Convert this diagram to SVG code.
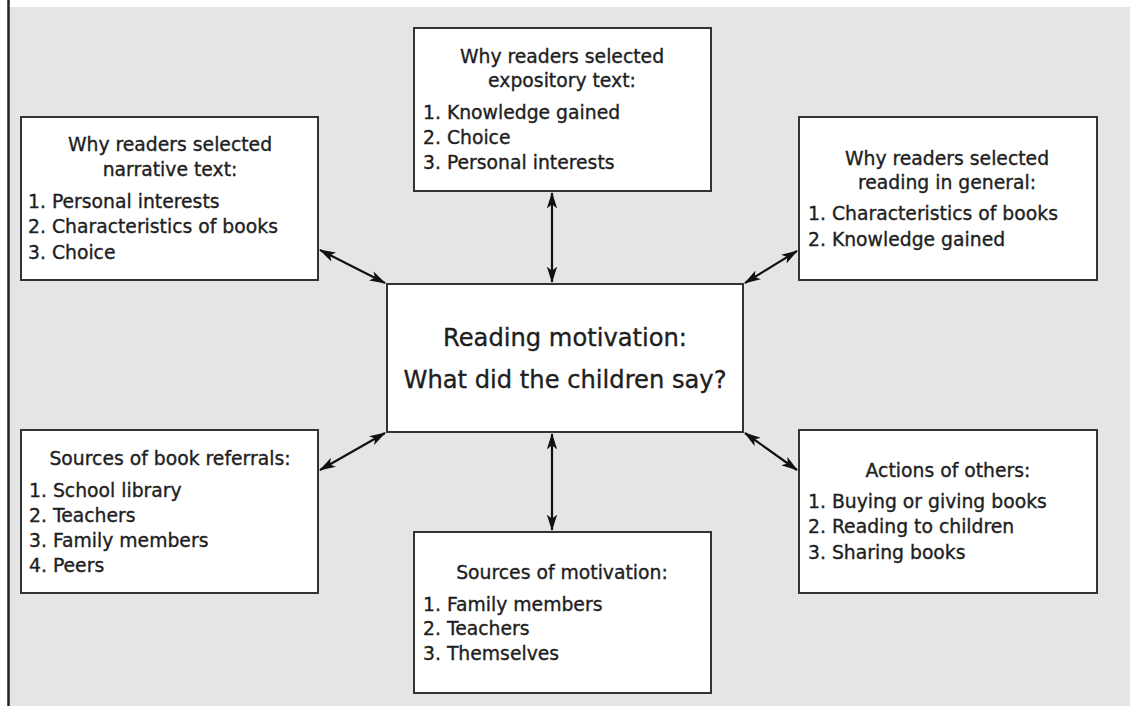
<svg xmlns="http://www.w3.org/2000/svg" width="1130" height="706" viewBox="0 0 1130 706">
<style>
.box{fill:#ffffff;stroke:#333;stroke-width:2}
.t{font-family:"DejaVu Sans",sans-serif;font-size:18.8px;fill:#1e1e1e;stroke:#1e1e1e;stroke-width:0.35}
.c{text-anchor:middle}
.big{font-size:24.2px}
.con{stroke:#111;stroke-width:2.2;fill:none;marker-start:url(#ah);marker-end:url(#ah)}
</style>
<defs>
<marker id="ah" viewBox="0 0 16 10" refX="15" refY="5" markerWidth="7.5" markerHeight="4.8" markerUnits="strokeWidth" orient="auto-start-reverse">
<path d="M0,0 L16,5 L0,10 L4,5 Z" fill="#111"/>
</marker>
</defs>
<rect x="0" y="0" width="1130" height="706" fill="#ffffff"/>
<rect x="9" y="7" width="1121" height="699" fill="#e5e5e5"/>
<line x1="8.5" y1="0" x2="8.5" y2="706" stroke="#222" stroke-width="2.5"/>

<g id="connectors">
<line class="con" x1="320" y1="250" x2="385" y2="283"/>
<line class="con" x1="552" y1="193" x2="552" y2="282"/>
<line class="con" x1="745" y1="283" x2="797" y2="251"/>
<line class="con" x1="320" y1="470" x2="385" y2="433"/>
<line class="con" x1="552" y1="434" x2="552" y2="530"/>
<line class="con" x1="745" y1="433" x2="797" y2="470"/>
</g>

<g id="center">
<rect class="box" x="387" y="284" width="356" height="148"/>
<text class="t c big" x="565" y="346">Reading motivation:</text>
<text class="t c big" x="565" y="388">What did the children say?</text>
</g>

<g id="narrative">
<rect class="box" x="21" y="117" width="297" height="163"/>
<text class="t c" x="170" y="151">Why readers selected</text>
<text class="t c" x="170" y="176">narrative text:</text>
<text class="t" x="28" y="208">1.  Personal interests</text>
<text class="t" x="28" y="233">2. Characteristics of books</text>
<text class="t" x="28" y="259">3. Choice</text>
</g>

<g id="expository">
<rect class="box" x="414" y="28" width="297" height="163"/>
<text class="t c" x="562" y="63">Why readers selected</text>
<text class="t c" x="562" y="87">expository text:</text>
<text class="t" x="423" y="119">1.  Knowledge gained</text>
<text class="t" x="423" y="144">2. Choice</text>
<text class="t" x="423" y="169">3. Personal interests</text>
</g>

<g id="general">
<rect class="box" x="799" y="117" width="298" height="163"/>
<text class="t c" x="947" y="165">Why readers selected</text>
<text class="t c" x="947" y="189">reading in general:</text>
<text class="t" x="808" y="220">1.  Characteristics of books</text>
<text class="t" x="808" y="246">2. Knowledge gained</text>
</g>

<g id="referrals">
<rect class="box" x="21" y="430" width="297" height="163"/>
<text class="t c" x="170" y="465">Sources of book referrals:</text>
<text class="t" x="29" y="497">1.  School library</text>
<text class="t" x="29" y="522">2. Teachers</text>
<text class="t" x="29" y="547">3. Family members</text>
<text class="t" x="29" y="572">4. Peers</text>
</g>

<g id="motivation">
<rect class="box" x="414" y="532" width="297" height="161"/>
<text class="t c" x="562" y="579">Sources of motivation:</text>
<text class="t" x="423" y="611">1.  Family members</text>
<text class="t" x="423" y="635">2. Teachers</text>
<text class="t" x="423" y="660">3. Themselves</text>
</g>

<g id="actions">
<rect class="box" x="799" y="430" width="298" height="163"/>
<text class="t c" x="948" y="477">Actions of others:</text>
<text class="t" x="808" y="508">1.  Buying or giving books</text>
<text class="t" x="808" y="533">2. Reading to children</text>
<text class="t" x="808" y="559">3. Sharing books</text>
</g>
</svg>
